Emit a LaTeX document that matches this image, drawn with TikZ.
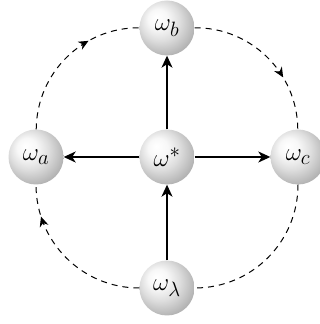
\documentclass[tikz,border=0pt]{standalone}
\usetikzlibrary{arrows.meta,decorations.markings}
\pgfdeclareradialshading{softball}{\pgfpoint{-10bp}{10bp}}{%
  color(0bp)=(white);
  color(9bp)=(white!97!black);
  color(18bp)=(white!87!black);
  color(27bp)=(white!74!black);
  color(38bp)=(white!57!black);
  color(50bp)=(white!45!black)}
\begin{document}
\begin{tikzpicture}[x=1pt,y=1pt,
  ballnode/.style={circle, shading=softball, minimum size=55pt, inner sep=0pt, font=\fontsize{29}{33}\selectfont},
  solidarrow/.style={-{Stealth[length=12pt,width=11pt,inset=3.5pt]}, line width=1.4pt},
  dasharc/.style={dash pattern=on 6pt off 5pt, line width=1pt},
  midarrow/.style={postaction={decorate}, decoration={markings, mark=at position #1 with {\arrow{Stealth[length=10pt,width=9pt]}}}}]
\useasboundingbox (0,0) rectangle (320,324);
\node[ballnode] (s) at (167,167) {$\omega^*$};
\node[ballnode] (a) at (36,167) {$\omega_a$};
\node[ballnode] (c) at (298,167) {$\omega_c$};
\node[ballnode] (b) at (167,296) {$\omega_b$};
\node[ballnode] (l) at (167,36) {$\omega_\lambda$};
\draw[solidarrow] (s) -- (a);
\draw[solidarrow] (s) -- (b);
\draw[solidarrow] (s) -- (c);
\draw[solidarrow] (l) -- (s);
\draw[dasharc, midarrow=0.67] (a) to[bend left=45] (b);
\draw[dasharc, midarrow=0.66] (b) to[bend left=45] (c);
\draw[dasharc, midarrow=0.8] (l) to[bend left=45] (a);
\draw[dasharc] (c) to[bend left=45] (l);
\end{tikzpicture}
\end{document}
